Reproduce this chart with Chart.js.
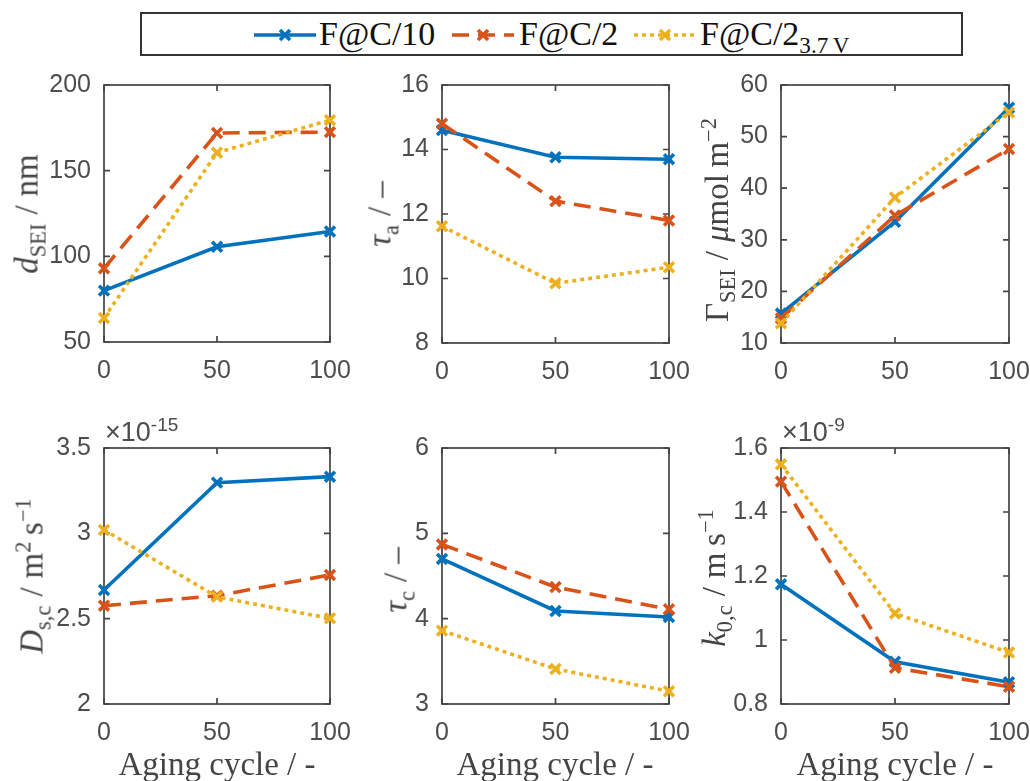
<!DOCTYPE html>
<html>
<head>
<meta charset="utf-8">
<script src="https://cdn.jsdelivr.net/npm/chart.js@4.4.0/dist/chart.umd.min.js"></script>
<style>
body { margin: 0; background: #fff; width: 1030px; height: 781px; overflow: hidden; position: relative; font-family: "Liberation Serif", serif; }
canvas { position: absolute; }
.ylab { position: absolute; transform: translate(-50%, -50%) rotate(-90deg); white-space: nowrap; font-size: 33px; color: #444; line-height: 1; }
.xlab { position: absolute; transform: translateX(-50%); white-space: nowrap; font-size: 33px; color: #444; line-height: 1; }
.sl { margin: 0 9px; }
sub, sup { font-size: 0.68em; line-height: 0; }
.expo { position: absolute; font-family: "Liberation Sans", sans-serif; font-size: 27px; color: #4d4d4d; line-height: 1; }
.expo sup { font-size: 19px; }
#legend { position: absolute; left: 140px; top: 12px; width: 819px; height: 40px; border: 2px solid #333; }
#legend svg { position: absolute; top: 11px; }
#legend span { position: absolute; top: 1px; font-size: 34px; color: #111; white-space: nowrap; }
</style>
</head>
<body>

<div id="legend">
  <svg style="left:110px" width="66" height="20"></svg><span style="left:177px">F@C/10</span>
  <svg style="left:308px" width="66" height="20"></svg><span style="left:377px">F@C/2</span>
  <svg style="left:490px" width="66" height="20"></svg><span style="left:558px">F@C/2<sub>3.7&#8201;V</sub></span>
</div>

<canvas id="c1"></canvas>
<canvas id="c2"></canvas>
<canvas id="c3"></canvas>
<canvas id="c4"></canvas>
<canvas id="c5"></canvas>
<canvas id="c6"></canvas>

<div class="ylab" style="left:27px;top:214px"><i>d</i><sub>SEI</sub><span class="sl">/</span>nm</div>
<div class="ylab" style="left:380px;top:214px"><i>τ</i><sub>a</sub><span class="sl">/</span>–</div>
<div class="ylab" style="left:717px;top:220px">Γ<sub>SEI</sub><span class="sl">/</span><i>μ</i>mol&#8201;m<sup>−2</sup></div>
<div class="ylab" style="left:32px;top:576px"><i>D</i><sub>s,c</sub><span class="sl">/</span>m<sup>2</sup>&#8201;s<sup>−1</sup></div>
<div class="ylab" style="left:396px;top:580px"><i>τ</i><sub>c</sub><span class="sl">/</span>–</div>
<div class="ylab" style="left:714px;top:578px"><i>k</i><sub>0,c</sub><span class="sl">/</span>m&#8201;s<sup>−1</sup></div>

<div class="xlab" style="left:217px;top:748px">Aging cycle / -</div>
<div class="xlab" style="left:555px;top:748px">Aging cycle / -</div>
<div class="xlab" style="left:895px;top:748px">Aging cycle / -</div>

<div class="expo" style="left:105px;top:419px">×10<sup>-15</sup></div>
<div class="expo" style="left:782px;top:419px">×10<sup>-9</sup></div>

<script>
var cycles = [0, 50, 100];
var seriesNames = ["F@C/10", "F@C/2", "F@C/2 3.7 V"];

var dSEI_C10 = [80, 105.6, 114.5];
var dSEI_C2 = [93, 172, 172.5];
var dSEI_C2v = [64, 160.5, 179.5];

var tauA_C10 = [14.6, 13.76, 13.7];
var tauA_C2 = [14.8, 12.4, 11.8];
var tauA_C2v = [11.62, 9.85, 10.35];

var gamma_C10 = [15.7, 33.5, 55.6];
var gamma_C2 = [14.8, 34.7, 47.6];
var gamma_C2v = [13.8, 38.2, 54.7];

// in units of 1e-15 m^2/s
var dsc_C10 = [2.668, 3.297, 3.332];
var dsc_C2 = [2.576, 2.635, 2.756];
var dsc_C2v = [3.02, 2.628, 2.502];

var tauC_C10 = [4.70, 4.09, 4.02];
var tauC_C2 = [4.87, 4.37, 4.11];
var tauC_C2v = [3.86, 3.41, 3.15];

// in units of 1e-9 m/s
var k0c_C10 = [1.174, 0.932, 0.868];
var k0c_C2 = [1.495, 0.913, 0.854];
var k0c_C2v = [1.549, 1.083, 0.961];

var xTicks = [0, 50, 100];
var dSEITicks = [50, 100, 150, 200];
var tauATicks = [8, 10, 12, 14, 16];
var gammaTicks = [10, 20, 30, 40, 50, 60];
var dscTicks = [2, 2.5, 3, 3.5];
var tauCTicks = [3, 4, 5, 6];
var k0cTicks = [0.8, 1, 1.2, 1.4, 1.6];

var blue = "#0072BD", red = "#D95319", yellow = "#EDB120";
var axisColor = "#444444";
var styles = [
    { color: blue, dash: [], order: 3 },
    { color: red, dash: [17, 9], order: 2 },
    { color: yellow, dash: [4, 4], order: 1 },
];

// box with inward ticks, like matlab
var boxPlugin = {
    id: "box",
    beforeDatasetsDraw: function (chart) {
        var ctx = chart.ctx, a = chart.chartArea, tl = 6;
        var xs = chart.scales.x, ys = chart.scales.y;
        ctx.save();
        ctx.strokeStyle = axisColor;
        ctx.lineWidth = 1.7;
        ctx.strokeRect(a.left, a.top, a.right - a.left, a.bottom - a.top);
        ctx.beginPath();
        xs.ticks.forEach(function (t) {
            var p = xs.getPixelForValue(t.value);
            ctx.moveTo(p, a.bottom); ctx.lineTo(p, a.bottom - tl);
            ctx.moveTo(p, a.top); ctx.lineTo(p, a.top + tl);
        });
        ys.ticks.forEach(function (t) {
            var p = ys.getPixelForValue(t.value);
            ctx.moveTo(a.left, p); ctx.lineTo(a.left + tl, p);
            ctx.moveTo(a.right, p); ctx.lineTo(a.right - tl, p);
        });
        ctx.stroke();
        ctx.restore();
    },
};

var padL = 95, padT = 20, padR = 30, padB = 50;

function makePlot(id, box, yTicks, series) {
    var cv = document.getElementById(id);
    var w = box[2] - box[0] + padL + padR;
    var h = box[3] - box[1] + padT + padB;
    cv.width = w; cv.height = h;
    cv.style.left = (box[0] - padL) + "px";
    cv.style.top = (box[1] - padT) + "px";

    var datasets = series.map(function (vals, i) {
        return {
            label: seriesNames[i],
            data: cycles.map(function (c, j) { return { x: c, y: vals[j] }; }),
            borderColor: styles[i].color,
            backgroundColor: styles[i].color,
            borderWidth: 3.6,
            borderDash: styles[i].dash,
            pointStyle: "crossRot",
            pointRadius: 7,
            pointBorderWidth: 3.6,
            order: styles[i].order,
            clip: false,
            tension: 0,
        };
    });

    var tickFont = { family: "Liberation Sans", size: 25 };

    new Chart(cv, {
        type: "line",
        data: { datasets: datasets },
        options: {
            responsive: false,
            animation: false,
            events: [],
            layout: { padding: { top: padT, right: padR, left: 0, bottom: 0 } },
            plugins: { legend: { display: false }, tooltip: { enabled: false } },
            scales: {
                x: {
                    type: "linear",
                    min: xTicks[0],
                    max: xTicks[xTicks.length - 1],
                    grid: { display: false, drawTicks: false },
                    border: { display: false },
                    afterBuildTicks: function (s) { s.ticks = xTicks.map(function (v) { return { value: v }; }); },
                    afterFit: function (s) { s.height = padB; s.paddingLeft = 0; s.paddingRight = 0; },
                    ticks: { font: tickFont, color: "#4d4d4d", padding: 14, maxRotation: 0, autoSkip: false,
                        callback: function (v) { return String(v); } },
                },
                y: {
                    min: yTicks[0],
                    max: yTicks[yTicks.length - 1],
                    grid: { display: false, drawTicks: false },
                    border: { display: false },
                    afterBuildTicks: function (s) { s.ticks = yTicks.map(function (v) { return { value: v }; }); },
                    afterFit: function (s) { s.width = padL; s.paddingTop = 0; s.paddingBottom = 0; },
                    ticks: { font: tickFont, color: "#4d4d4d", padding: 13, autoSkip: false,
                        callback: function (v) { return String(v); } },
                },
            },
        },
        plugins: [boxPlugin],
    });
}

makePlot("c1", [104, 85, 330, 342], dSEITicks, [dSEI_C10, dSEI_C2, dSEI_C2v]);
makePlot("c2", [442, 85, 669, 343], tauATicks, [tauA_C10, tauA_C2, tauA_C2v]);
makePlot("c3", [781, 85, 1009, 343], gammaTicks, [gamma_C10, gamma_C2, gamma_C2v]);
makePlot("c4", [104, 448, 330, 704], dscTicks, [dsc_C10, dsc_C2, dsc_C2v]);
makePlot("c5", [442, 448, 669, 704], tauCTicks, [tauC_C10, tauC_C2, tauC_C2v]);
makePlot("c6", [781, 448, 1009, 704], k0cTicks, [k0c_C10, k0c_C2, k0c_C2v]);

// legend samples
var svgs = document.querySelectorAll("#legend svg");
styles.forEach(function (st, i) {
    var s = svgs[i];
    var ns = "http://www.w3.org/2000/svg";
    var ln = document.createElementNS(ns, "line");
    ln.setAttribute("x1", 2); ln.setAttribute("x2", 64);
    ln.setAttribute("y1", 10); ln.setAttribute("y2", 10);
    ln.setAttribute("stroke", st.color); ln.setAttribute("stroke-width", 3.6);
    if (st.dash.length) ln.setAttribute("stroke-dasharray", st.dash.join(" "));
    s.appendChild(ln);
    var mk = document.createElementNS(ns, "path");
    mk.setAttribute("d", "M28 5 L38 15 M38 5 L28 15");
    mk.setAttribute("stroke", st.color); mk.setAttribute("stroke-width", 3.6);
    s.appendChild(mk);
});
</script>
</body>
</html>
